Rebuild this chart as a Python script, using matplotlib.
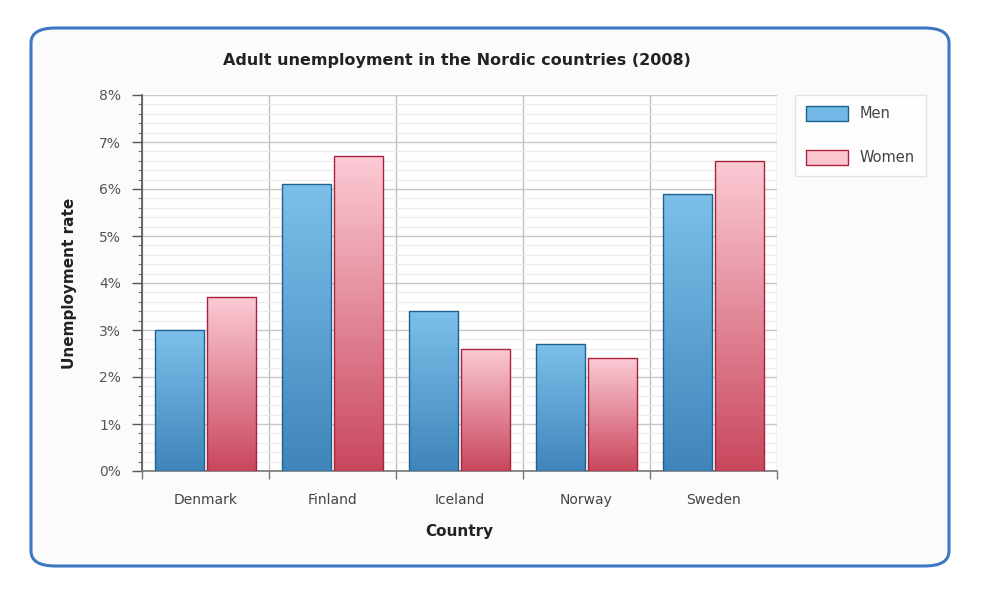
import numpy as np
import matplotlib
matplotlib.use("Agg")
import matplotlib.pyplot as plt
from matplotlib.patches import FancyBboxPatch, Patch
from matplotlib.colors import LinearSegmentedColormap
from matplotlib.ticker import MultipleLocator, FuncFormatter

countries = ["Denmark", "Finland", "Iceland", "Norway", "Sweden"]
men = [3.0, 6.1, 3.4, 2.7, 5.9]
women = [3.7, 6.7, 2.6, 2.4, 6.6]
series_names = ["Men", "Women"]
title = "Adult unemployment in the Nordic countries (2008)"
xlabel = "Country"
ylabel = "Unemployment rate"

W, H = 981, 595
fig = plt.figure(figsize=(W / 100, H / 100), dpi=100)
fig.patch.set_facecolor("white")

# rounded panel border
panel = FancyBboxPatch((31 / W, 1 - 566 / H), (949 - 31) / W, (566 - 28) / H,
                       boxstyle="round,pad=0,rounding_size=0.025",
                       transform=fig.transFigure, facecolor="#fbfbfb",
                       edgecolor="#3f78c2", linewidth=2.2, zorder=-10)
fig.patches.append(panel)

ax = fig.add_axes([142 / W, 1 - 471 / H, (777 - 142) / W, (471 - 95) / H])
ax.set_zorder(1)
ax.set_facecolor("white")

x = np.arange(len(countries))
bw = 0.39
gap = 0.02

men_cmap = LinearSegmentedColormap.from_list("m", ["#3f85ba", "#7cc0ea"])
wom_cmap = LinearSegmentedColormap.from_list("w", ["#c9475d", "#fccad5"])
grad = np.linspace(0, 1, 256).reshape(-1, 1)

b1 = ax.bar(x - bw / 2 - gap / 2, men, bw, facecolor="none",
            edgecolor="#1c628f", linewidth=1.0, zorder=4)
b2 = ax.bar(x + bw / 2 + gap / 2, women, bw, facecolor="none",
            edgecolor="#a8223b", linewidth=1.0, zorder=4)

for bars, cmap in ((b1, men_cmap), (b2, wom_cmap)):
    for r in bars:
        x0, y0 = r.get_x(), r.get_y()
        w, h = r.get_width(), r.get_height()
        im = ax.imshow(grad, cmap=cmap, origin="lower", aspect="auto",
                       extent=[x0, x0 + w, y0, y0 + h], zorder=3,
                       interpolation="bilinear")
        im.set_clip_path(r)

ax.set_xlim(-0.5, len(countries) - 0.5)
ax.set_ylim(0, 8)
ax.set_aspect("auto")

# grid
ax.yaxis.set_major_locator(MultipleLocator(1))
ax.yaxis.set_minor_locator(MultipleLocator(0.2))
ax.set_xticks(np.arange(len(countries) + 1) - 0.5, minor=False)
ax.set_xticklabels([])
ax.set_xticks(x, minor=True)
ax.set_xticklabels(countries, minor=True)
ax.grid(which="major", axis="y", color="#c8c8c8", linewidth=1.0, zorder=1)
ax.grid(which="minor", axis="y", color="#ececec", linewidth=0.8, zorder=0.5)
ax.grid(which="major", axis="x", color="#c0c0c0", linewidth=1.0, zorder=1)
ax.set_axisbelow(True)

ax.yaxis.set_major_formatter(FuncFormatter(lambda v, p: f"{int(v)}%"))
ax.tick_params(axis="y", which="major", length=7, width=1, color="#555555",
               labelsize=10, labelcolor="#555555", pad=8)
ax.tick_params(axis="y", which="minor", length=3, width=0.8, color="#777777")
ax.tick_params(axis="x", which="major", length=6, width=1, color="#777777")
ax.tick_params(axis="x", which="minor", length=0, labelsize=10,
               labelcolor="#444444", pad=16)

for s in ("top", "right"):
    ax.spines[s].set_visible(False)
ax.spines["left"].set_color("#555555")
ax.spines["bottom"].set_color("#777777")
ax.spines["left"].set_linewidth(1.2)
ax.spines["bottom"].set_linewidth(1.2)

fig.text(457 / W, 1 - 61 / H, title, ha="center", va="center",
         fontsize=11.5, fontweight="bold", color="#222222")
ax.set_xlabel(xlabel, fontsize=11, fontweight="bold", color="#222222",
              labelpad=12)
ax.set_ylabel(ylabel, fontsize=11, fontweight="bold", color="#222222",
              labelpad=16)

handles = [Patch(facecolor="#72b8e6", edgecolor="#1c628f", label=series_names[0]),
           Patch(facecolor="#fcc6d1", edgecolor="#a8223b", label=series_names[1])]
leg = fig.legend(handles=handles, loc="upper left",
                 bbox_to_anchor=(795 / W, 1 - 95 / H), borderaxespad=0,
                 frameon=True, fontsize=10.5, handlelength=2.9,
                 handleheight=1.2, labelspacing=1.95, borderpad=0.75,
                 handletextpad=0.8, fancybox=False)
leg.get_frame().set_edgecolor("#dddddd")
leg.get_frame().set_facecolor("white")
leg.get_frame().set_linewidth(1.0)
for t in leg.get_texts():
    t.set_color("#444444")

fig.savefig("out.png", dpi=100, facecolor="white")
